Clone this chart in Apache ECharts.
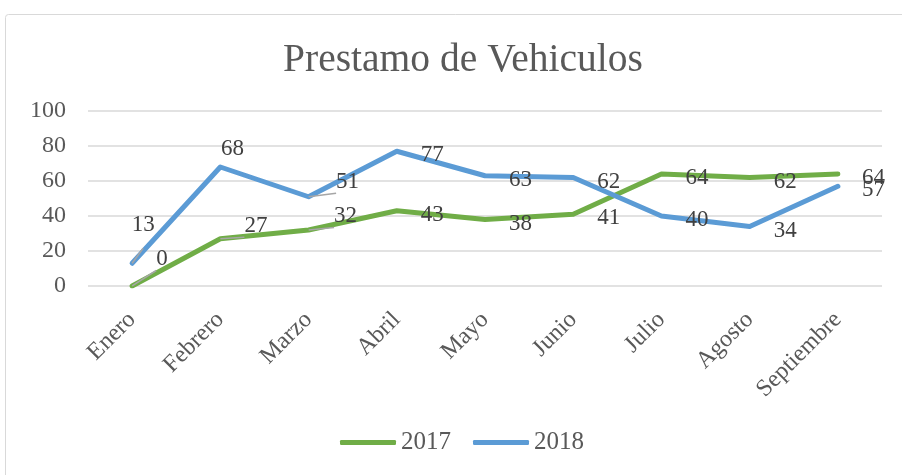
<!DOCTYPE html>
<html>
<head>
<meta charset="utf-8">
<script src="https://cdn.jsdelivr.net/npm/echarts@6/dist/echarts.min.js"></script>
<style>
  html, body { margin: 0; padding: 0; background: #fff; }
  #chart { width: 902px; height: 475px; }
</style>
</head>
<body>
<div id="chart"></div>
<script>
// datos
var meses = ['Enero', 'Febrero', 'Marzo', 'Abril', 'Mayo', 'Junio', 'Julio', 'Agosto', 'Septiembre'];
var datos2017 = [0, 27, 32, 43, 38, 41, 64, 62, 64];
var datos2018 = [13, 68, 51, 77, 63, 62, 40, 34, 57];
var yTicks = [0, 20, 40, 60, 80, 100];

// desplazamiento de algunas etiquetas (como en Excel)
var ajuste2017 = { 0: [0, -27], 1: [0, -13], 2: [1.5, -14] };
var ajuste2018 = { 0: [-24.5, -38], 1: [-23.5, -18], 2: [3.5, -15] };
var conLinea2017 = [0, 1, 2];
var conLinea2018 = [0, 2];

var fuente = '"Liberation Serif", "DejaVu Serif", serif';

function armar(valores, ajustes, lineas) {
  return valores.map(function(v, i) {
    var item = { value: v };
    if (ajustes[i]) {
      item.label = { offset: ajustes[i] };
    }
    if (lineas.indexOf(i) >= 0) {
      item.labelLine = { show: true };
    }
    return item;
  });
}

var etiqueta = {
  show: true,
  position: 'right',
  distance: 24,
  offset: [0, 4],
  fontFamily: fuente,
  fontSize: 23,
  color: '#404040'
};

var myChart = echarts.init(document.getElementById('chart'));

var option = {
  backgroundColor: '#fff',
  animation: false,
  graphic: [{
    type: 'rect',
    shape: { x: 5.5, y: 14.5, width: 1000, height: 600, r: 3 },
    style: { fill: 'none', stroke: '#d9d9d9', lineWidth: 1 },
    silent: true
  }],
  title: {
    text: 'Prestamo de Vehiculos',
    left: 458,
    textAlign: 'center',
    top: 36,
    textStyle: { fontFamily: fuente, fontSize: 39.5, fontWeight: 'normal', color: '#595959' }
  },
  legend: {
    bottom: 15,
    left: 335,
    icon: 'roundRect',
    itemWidth: 56,
    itemHeight: 5,
    itemGap: 22,
    data: ['2017', '2018'],
    textStyle: { fontFamily: fuente, fontSize: 25, color: '#595959' }
  },
  grid: { left: 88, right: 20, top: 111, bottom: 189, containLabel: false },
  xAxis: {
    type: 'category',
    data: meses,
    boundaryGap: true,
    axisLine: { show: false },
    axisTick: { show: false },
    axisLabel: {
      rotate: 45,
      margin: 30,
      fontFamily: fuente,
      fontSize: 24,
      color: '#595959'
    }
  },
  yAxis: {
    type: 'value',
    min: yTicks[0],
    max: yTicks[yTicks.length - 1],
    interval: 20,
    axisLine: { show: false },
    axisTick: { show: false },
    splitLine: { lineStyle: { color: '#d9d9d9', width: 1.5 } },
    axisLabel: { margin: 22, fontFamily: fuente, fontSize: 24, color: '#595959' }
  },
  series: [{
    name: '2017',
    type: 'line',
    data: armar(datos2017, ajuste2017, conLinea2017),
    showSymbol: true,
    symbol: 'circle',
    symbolSize: 0.1,
    color: '#70AD47',
    lineStyle: { width: 5, cap: 'round', join: 'round' },
    label: etiqueta,
    labelLine: { show: false, lineStyle: { color: '#a6a6a6', width: 1.5 } }
  }, {
    name: '2018',
    type: 'line',
    data: armar(datos2018, ajuste2018, conLinea2018),
    showSymbol: true,
    symbol: 'circle',
    symbolSize: 0.1,
    color: '#5B9BD5',
    lineStyle: { width: 5, cap: 'round', join: 'round' },
    label: etiqueta,
    labelLine: { show: false, lineStyle: { color: '#a6a6a6', width: 1.5 } }
  }]
};

myChart.setOption(option);
</script>
</body>
</html>
